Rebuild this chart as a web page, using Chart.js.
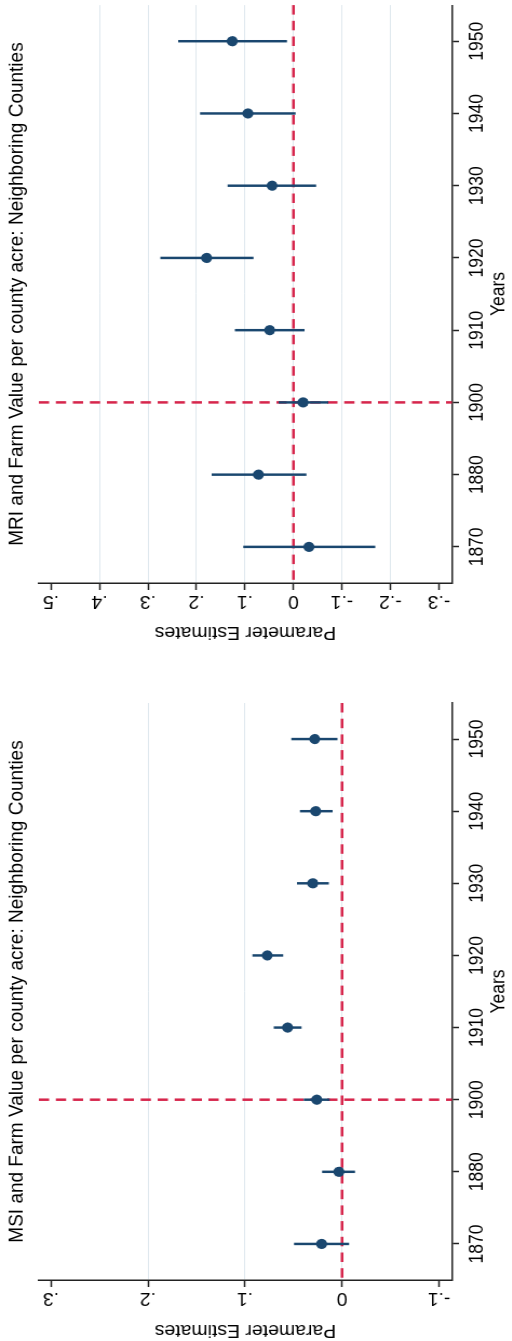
<!DOCTYPE html>
<html>
<head>
<meta charset="utf-8">
<title>MSI / MRI and Farm Value per county acre</title>
<script src="https://cdn.jsdelivr.net/npm/chart.js@4.4.1/dist/chart.umd.min.js"></script>
<style>
  html, body { margin: 0; padding: 0; background: #fff; overflow: hidden; }
  body { width: 512px; height: 1341px; position: relative; }
  /* figure is laid out landscape, slightly stretched, then turned a quarter turn to the left */
  #fig { position: absolute; left: 0; top: 0; width: 1341px; height: 500px;
         transform-origin: 0 0; transform: translate(0, 1341px) rotate(-90deg) scale(1, 1.08); }
  #fig canvas { position: absolute; top: 0; }
</style>
</head>
<body>
<div id="fig">
  <canvas id="msi" width="698" height="500" style="left:0"></canvas>
  <canvas id="mri" width="643" height="500" style="left:698px"></canvas>
</div>
<script>
var years = ['1870', '1880', '1900', '1910', '1920', '1930', '1940', '1950'];

// MSI panel
var msiEst  = [0.021, 0.003, 0.026, 0.056, 0.077, 0.030, 0.027, 0.028];
var msiLow  = [-0.007, -0.013, 0.013, 0.042, 0.061, 0.014, 0.010, 0.005];
var msiHigh = [0.049, 0.020, 0.039, 0.070, 0.092, 0.046, 0.043, 0.052];
var msiTicks = [-0.1, 0, 0.1, 0.2, 0.3];
var msiTickLabels = ['-.1', '0', '.1', '.2', '.3'];

// MRI panel
var mriEst  = [-0.032, 0.072, -0.020, 0.049, 0.179, 0.044, 0.094, 0.126];
var mriLow  = [-0.168, -0.026, -0.071, -0.022, 0.083, -0.046, -0.004, 0.014];
var mriHigh = [0.103, 0.168, 0.030, 0.120, 0.274, 0.135, 0.192, 0.237];
var mriTicks = [-0.3, -0.2, -0.1, 0, 0.1, 0.2, 0.3, 0.4, 0.5];
var mriTickLabels = ['-.3', '-.2', '-.1', '0', '.1', '.2', '.3', '.4', '.5'];

var refYear = '1900';  // red dashed line on the years axis
var refValue = 0;      // red dashed line on the estimates axis

var navy = '#1a476f';
var red = '#d6264c';
var axisColor = '#222';
var gridColor = '#dfe8ee';

Chart.defaults.font.family = "'Liberation Sans', Arial, Helvetica, sans-serif";
Chart.defaults.color = '#000';

// dashed reference lines, under the estimates
var refLines = {
  id: 'refLines',
  beforeDatasetsDraw: function(chart) {
    var ctx = chart.ctx, a = chart.chartArea;
    var x = chart.scales.x.getPixelForValue(years.indexOf(refYear));
    var y = chart.scales.y.getPixelForValue(refValue);
    ctx.save();
    ctx.strokeStyle = red;
    ctx.lineWidth = 2.5;
    ctx.setLineDash([9.5, 6.2]);
    ctx.beginPath();
    ctx.moveTo(a.right, y);
    ctx.lineTo(a.left, y);
    ctx.stroke();
    ctx.beginPath();
    ctx.moveTo(x, a.top);
    ctx.lineTo(x, a.bottom);
    ctx.stroke();
    ctx.restore();
  }
};

function makePanel(id, title, est, low, high, ticks, tickLabels, yMin, yMax, yWidth, padRight) {
  var ci = low.map(function(v, i) { return [v, high[i]]; });
  return new Chart(document.getElementById(id), {
    type: 'bar',
    data: {
      labels: years,
      datasets: [{
        type: 'line',
        data: est,
        showLine: false,
        pointRadius: 5.1,
        pointBackgroundColor: navy,
        pointBorderWidth: 0,
        order: 0
      }, {
        type: 'bar',
        data: ci,
        backgroundColor: navy,
        borderWidth: 0,
        barThickness: 1.8,
        order: 1
      }]
    },
    options: {
      responsive: false,
      animation: false,
      layout: { padding: { left: 0, right: padRight, top: 0, bottom: 0 } },
      plugins: {
        legend: { display: false },
        tooltip: { enabled: false },
        title: {
          display: true,
          text: title,
          fullSize: false,
          font: { size: 19, weight: 'normal' },
          padding: { top: 4.3, bottom: 9 }
        }
      },
      scales: {
        x: {
          type: 'category',
          offset: true,
          grid: { offset: false, drawOnChartArea: false, tickLength: 6.5, tickColor: axisColor, tickWidth: 1.5 },
          border: { display: true, color: axisColor, width: 1.4 },
          ticks: { font: { size: 17.5 }, padding: 6.5, maxRotation: 0, autoSkip: false },
          title: { display: true, text: 'Years', font: { size: 17.5 }, padding: { top: 0, bottom: 27 } },
          afterFit: function(s) { s.height = 81.5; }
        },
        y: {
          type: 'linear',
          min: yMin,
          max: yMax,
          afterBuildTicks: function(s) {
            s.ticks = ticks.map(function(v) { return { value: v }; });
          },
          grid: {
            // Stata leaves out the gridlines at the end ticks
            color: function(c) {
              return (c.index === 0 || c.index === ticks.length - 1) ? 'rgba(0,0,0,0)' : gridColor;
            },
            lineWidth: 1,
            tickLength: 7,
            tickColor: axisColor,
            tickWidth: 1.5
          },
          border: { display: true, color: axisColor, width: 1.5 },
          ticks: {
            callback: function(v, i) { return tickLabels[i]; },
            minRotation: 90,
            maxRotation: 90,
            crossAlign: 'center',
            padding: 0,
            autoSkip: false,
            font: { size: 18 }
          },
          title: { display: true, text: 'Parameter Estimates', font: { size: 18 }, padding: { top: 0, bottom: 0 } },
          afterFit: function(s) { s.width = yWidth; }
        }
      }
    },
    plugins: [refLines]
  });
}

makePanel('msi', 'MSI and Farm Value per county acre: Neighboring Counties',
  msiEst, msiLow, msiHigh, msiTicks, msiTickLabels, -0.1134, 0.3124, 61, 60);
makePanel('mri', 'MRI and Farm Value per county acre: Neighboring Counties',
  mriEst, mriLow, mriHigh, mriTicks, mriTickLabels, -0.327, 0.525, 60, 5);
</script>
</body>
</html>
